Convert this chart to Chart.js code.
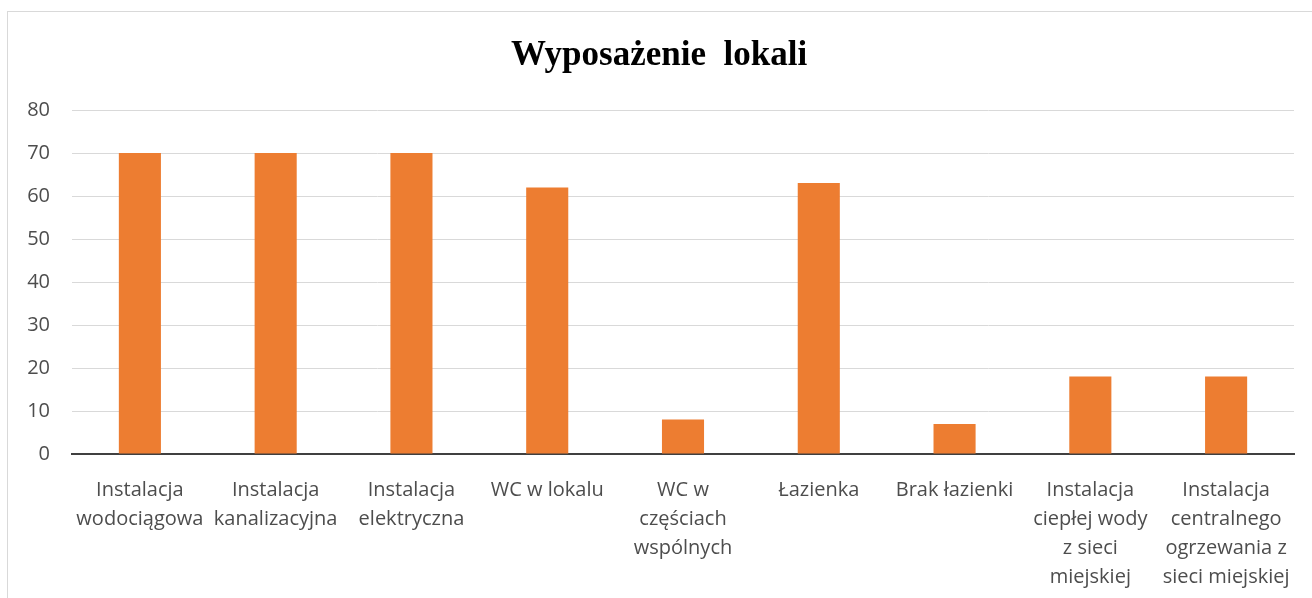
<!DOCTYPE html>
<html>
<head>
<meta charset="utf-8">
<script src="https://cdn.jsdelivr.net/npm/chart.js@4.4.1/dist/chart.umd.min.js"></script>
<style>
  html, body { margin: 0; padding: 0; background: #fff; overflow: hidden; }
  #frame { position: absolute; left: 7px; top: 11px; width: 1330px; height: 620px; border: 1px solid #d9d9d9; }
  #wrap { position: absolute; left: 0; top: 0; width: 1312px; height: 598px; }
</style>
</head>
<body>
<div id="frame"></div>
<div id="wrap"><canvas id="chart"></canvas></div>
<script>
const categories = [
  ['Instalacja', 'wodociągowa'],
  ['Instalacja', 'kanalizacyjna'],
  ['Instalacja', 'elektryczna'],
  'WC w lokalu',
  ['WC w', 'częściach', 'wspólnych'],
  'Łazienka',
  'Brak łazienki',
  ['Instalacja', 'ciepłej wody', 'z sieci', 'miejskiej'],
  ['Instalacja', 'centralnego', 'ogrzewania z', 'sieci miejskiej']
];
const values = [70, 70, 70, 62, 8, 63, 7, 18, 18];
const yTicks = [0, 10, 20, 30, 40, 50, 60, 70, 80];

const labelFont = { family: 'Open Sans', size: 20 };

new Chart(document.getElementById('chart'), {
  type: 'bar',
  data: {
    labels: categories,
    datasets: [{
      data: values,
      backgroundColor: '#ED7D31',
      barPercentage: 0.31,
      categoryPercentage: 1
    }]
  },
  options: {
    responsive: true,
    maintainAspectRatio: false,
    animation: false,
    layout: { padding: { left: 24, right: 18, top: 0, bottom: 0 } },
    plugins: {
      legend: { display: false },
      tooltip: { enabled: false },
      title: {
        display: true,
        text: 'Wyposażenie  lokali',
        color: '#000',
        font: { family: 'Liberation Serif', size: 35, weight: 'bold', lineHeight: 1.2 },
        padding: { top: 35, bottom: 33 }
      }
    },
    scales: {
      x: {
        grid: { display: false },
        border: { display: true, color: '#404040', width: 2 },
        ticks: { color: '#4d4d4d', font: { ...labelFont, lineHeight: 1.45 }, maxRotation: 0, autoSkip: false, padding: 14 },
        afterFit: s => { s.height = 144; }
      },
      y: {
        min: 0,
        max: 80,
        afterBuildTicks: s => { s.ticks = yTicks.map(v => ({ value: v })); },
        grid: { color: c => c.tick.value === 0 ? 'rgba(0,0,0,0)' : '#d9d9d9', drawTicks: false },
        border: { display: false },
        ticks: { color: '#4d4d4d', font: labelFont, padding: 22 },
        afterFit: s => { s.width = 48; }
      }
    }
  }
});
</script>
</body>
</html>
